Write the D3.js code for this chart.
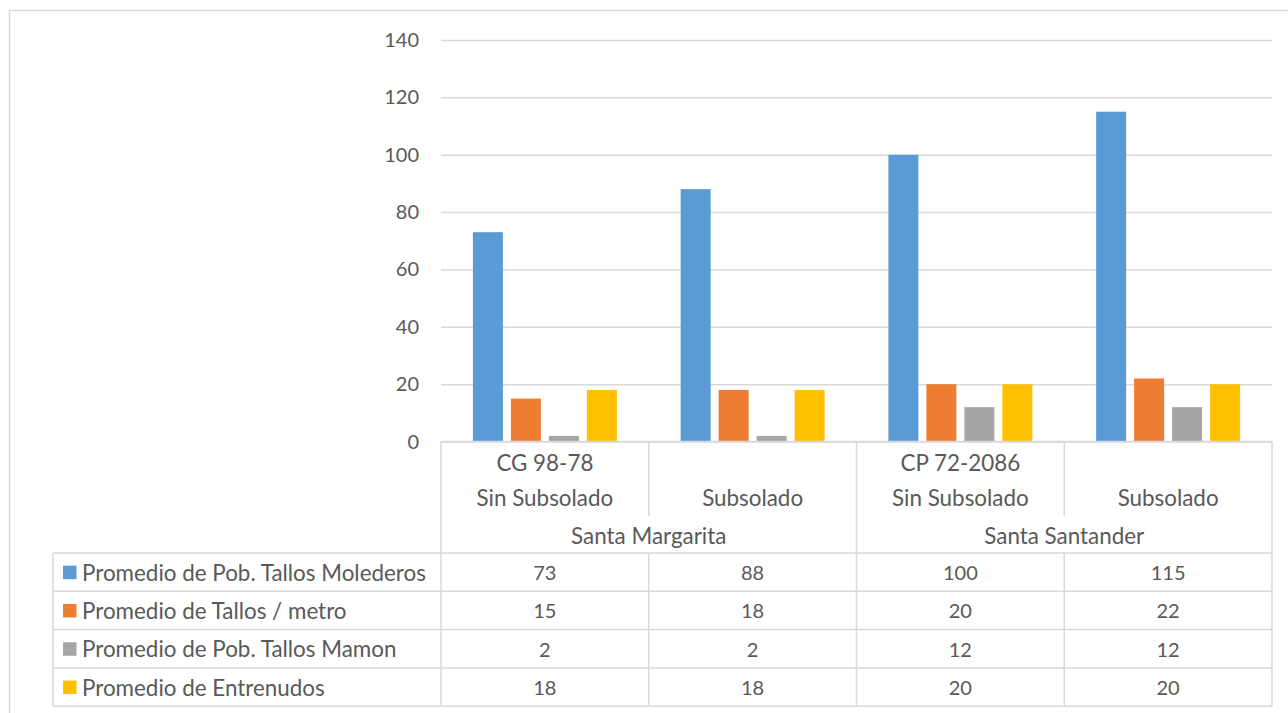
<!DOCTYPE html>
<html>
<head>
<meta charset="utf-8">
<script src="https://cdn.jsdelivr.net/npm/d3@7"></script>
<style>
  html, body { margin: 0; padding: 0; background: #fff; }
  svg { display: block; }
  text { font-family: Lato, "Open Sans", sans-serif; fill: #595959; }
</style>
</head>
<body>
<svg id="chart" width="1288" height="713"></svg>
<script>
// Category hierarchy (three label levels under the axis)
const treatments = ["Sin Subsolado", "Subsolado", "Sin Subsolado", "Subsolado"];
const varieties = ["CG 98-78", "", "CP 72-2086", ""];
const locations = ["Santa Margarita", "Santa Santander"];

// Series
const seriesNames = [
  "Promedio de Pob. Tallos Molederos",
  "Promedio de Tallos / metro",
  "Promedio de Pob. Tallos Mamon",
  "Promedio de Entrenudos"
];
const tallosMolederos = [73, 88, 100, 115];
const tallosMetro = [15, 18, 20, 22];
const tallosMamon = [2, 2, 12, 12];
const entrenudos = [18, 18, 20, 20];
const seriesColors = ["#5B9BD5", "#ED7D31", "#A5A5A5", "#FFC000"];

const yTicks = [0, 20, 40, 60, 80, 100, 120, 140];

const seriesValues = [tallosMolederos, tallosMetro, tallosMamon, entrenudos];

const svg = d3.select("#chart");
const W = 1288, H = 713;
const lineColor = "#D9D9D9";
const wordSize = 22.4;   // labels made of words
const numSize = 20;      // numeric labels

// Plot frame
const plot = { left: 441, right: 1272, top: 40, bottom: 441.6 };
const labelRowBottom = 516;     // end of the short dividers between treatments
const tableTop = 553;
const rowH = 38.3;
const tableLeft = 53;

// Outer chart border
svg.append("rect")
  .attr("x", 9.5).attr("y", 10.5)
  .attr("width", W + 20).attr("height", H + 20)
  .attr("fill", "none").attr("stroke", lineColor).attr("stroke-width", 1.5);

const y = d3.scaleLinear().domain([0, 140]).range([plot.bottom, plot.top]);
const x0 = d3.scaleBand().domain(d3.range(treatments.length))
  .range([plot.left, plot.right]).paddingInner(0).paddingOuter(0);
const groupSpan = x0.bandwidth() * 0.693;
const x1 = d3.scaleBand().domain(d3.range(seriesNames.length))
  .range([0, groupSpan]).paddingInner(0.2105).paddingOuter(0);
const groupOffset = (x0.bandwidth() - groupSpan) / 2;

// Gridlines
const grid = svg.append("g")
  .attr("transform", `translate(${plot.left},0)`)
  .call(d3.axisLeft(y).tickValues(yTicks).tickSize(-(plot.right - plot.left)).tickFormat(""));
grid.select(".domain").remove();
grid.selectAll(".tick line").attr("stroke", lineColor).attr("stroke-width", 1.5);

// Y tick labels
const yAxis = svg.append("g")
  .attr("transform", `translate(${plot.left - 22},0)`)
  .call(d3.axisLeft(y).tickValues(yTicks).tickSize(0).tickPadding(0));
yAxis.select(".domain").remove();
yAxis.selectAll(".tick text")
  .style("font-size", numSize + "px")
  .style("font-family", "Lato, 'Open Sans', sans-serif")
  .attr("fill", "#595959");

// Bars
const cats = svg.append("g").selectAll("g")
  .data(d3.range(treatments.length))
  .join("g")
  .attr("transform", i => `translate(${x0(i) + groupOffset},0)`);

cats.selectAll("rect")
  .data(i => seriesValues.map((vals, s) => ({ s, v: vals[i] })))
  .join("rect")
  .attr("x", d => x1(d.s))
  .attr("width", x1.bandwidth())
  .attr("y", d => y(d.v))
  .attr("height", d => y(0) - y(d.v))
  .attr("fill", d => seriesColors[d.s]);

// Category axis and data table lines
const lines = svg.append("g")
  .attr("stroke", lineColor).attr("stroke-width", 1.5).attr("fill", "none");

// axis line
lines.append("line")
  .attr("x1", plot.left).attr("x2", plot.right)
  .attr("y1", plot.bottom).attr("y2", plot.bottom);

const tableBottom = tableTop + rowH * seriesNames.length;

// dividers between treatments inside a location
treatments.forEach((t, i) => {
  if (i % 2 === 1) {
    lines.append("line")
      .attr("x1", x0(i)).attr("x2", x0(i))
      .attr("y1", plot.bottom).attr("y2", labelRowBottom);
  }
});
// location boundaries run through the whole table
[0, 2].forEach(i => {
  lines.append("line")
    .attr("x1", x0(i)).attr("x2", x0(i))
    .attr("y1", plot.bottom).attr("y2", tableBottom);
});
lines.append("line")
  .attr("x1", plot.right).attr("x2", plot.right)
  .attr("y1", plot.bottom).attr("y2", tableBottom);
// treatment dividers inside the table rows
treatments.forEach((t, i) => {
  if (i % 2 === 1) {
    lines.append("line")
      .attr("x1", x0(i)).attr("x2", x0(i))
      .attr("y1", tableTop).attr("y2", tableBottom);
  }
});
// table left edge and row lines
lines.append("line")
  .attr("x1", tableLeft).attr("x2", tableLeft)
  .attr("y1", tableTop).attr("y2", tableBottom);
d3.range(seriesNames.length + 1).forEach(r => {
  lines.append("line")
    .attr("x1", tableLeft).attr("x2", plot.right)
    .attr("y1", tableTop + r * rowH).attr("y2", tableTop + r * rowH);
});

const labels = svg.append("g")
  .attr("text-anchor", "middle")
  .attr("dominant-baseline", "central");

// variety and treatment labels
treatments.forEach((t, i) => {
  const cx = x0(i) + x0.bandwidth() / 2;
  if (varieties[i]) {
    labels.append("text").attr("x", cx).attr("y", 462)
      .style("font-size", wordSize + "px").text(varieties[i]);
  }
  labels.append("text").attr("x", cx).attr("y", 497)
    .style("font-size", wordSize + "px").text(t);
});
// location labels
locations.forEach((loc, g) => {
  const cx = x0(g * 2) + x0.bandwidth();
  labels.append("text").attr("x", cx).attr("y", 535)
    .style("font-size", wordSize + "px").text(loc);
});

// table rows: legend key, series name, values
seriesNames.forEach((name, s) => {
  const cy = tableTop + rowH * s + rowH / 2;
  svg.append("rect")
    .attr("x", 63).attr("y", cy - 6.5)
    .attr("width", 13.5).attr("height", 13.5)
    .attr("fill", seriesColors[s]);
  svg.append("text")
    .attr("x", 82).attr("y", cy)
    .attr("dominant-baseline", "central")
    .style("font-size", wordSize + "px")
    .text(name);
  seriesValues[s].forEach((v, i) => {
    labels.append("text")
      .attr("x", x0(i) + x0.bandwidth() / 2)
      .attr("y", cy)
      .style("font-size", numSize + "px")
      .text(d3.format(".0f")(v));
  });
});
</script>
</body>
</html>
